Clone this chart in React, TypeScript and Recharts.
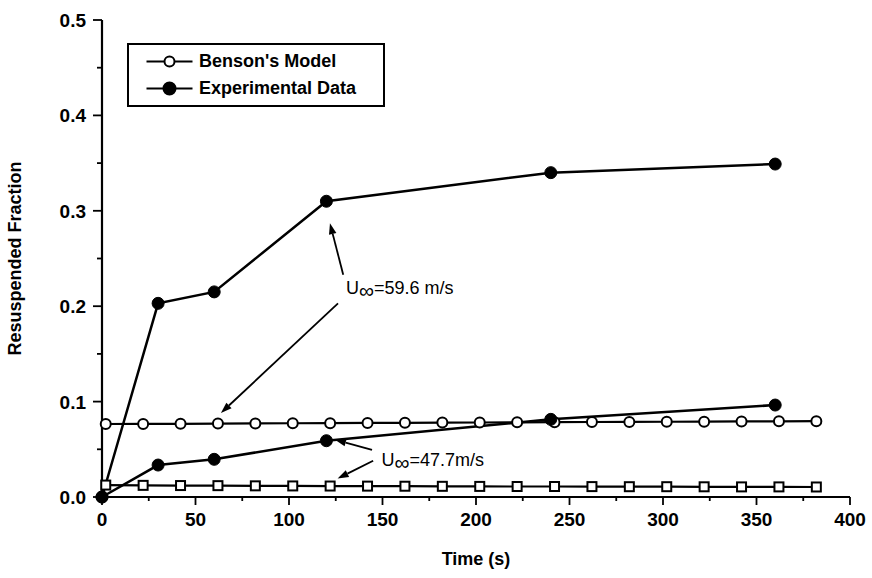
import React from 'react';
import {
  LineChart,
  Line,
  XAxis,
  YAxis,
  Legend,
  ReferenceLine,
  ReferenceDot,
} from 'recharts';

const FONT = '"Liberation Sans", Arial, sans-serif';

// Benson's model, both flow speeds share the same time points
const bensonTime = [2, 22, 42, 62, 82, 102, 122, 142, 162, 182, 202, 222, 242, 262, 282, 302, 322, 342, 362, 382];
const bensonHigh = [0.0765, 0.0766, 0.0767, 0.077, 0.0771, 0.0773, 0.0774, 0.0776, 0.0778, 0.078, 0.0781, 0.0783, 0.0784, 0.0786, 0.0787, 0.0789, 0.079, 0.0792, 0.0793, 0.0795];
const bensonLow = [0.0125, 0.0122, 0.012, 0.0119, 0.0117, 0.0116, 0.0115, 0.0114, 0.0113, 0.0112, 0.0111, 0.011, 0.011, 0.0109, 0.0108, 0.0108, 0.0107, 0.0106, 0.0106, 0.0105];

// experimental data
const expTime = [0, 30, 60, 120, 240, 360];
const expHigh = [0, 0.203, 0.215, 0.31, 0.34, 0.349];
const expLow = [0, 0.0335, 0.0395, 0.059, 0.0814, 0.0964];

const xTicks = [0, 25, 50, 75, 100, 125, 150, 175, 200, 225, 250, 275, 300, 325, 350, 375, 400];
const yTicks = [0, 0.05, 0.1, 0.15, 0.2, 0.25, 0.3, 0.35, 0.4, 0.45, 0.5];

const legendItems = [
  { name: "Benson's Model", filled: false },
  { name: 'Experimental Data', filled: true },
];

// annotation arrows [from, to] and labels, in data units
const arrows = [
  [{ x: 129, y: 0.233 }, { x: 121.9, y: 0.287 }],
  [{ x: 126.2, y: 0.203 }, { x: 63.6, y: 0.088 }],
  [{ x: 144.4, y: 0.0493 }, { x: 124.6, y: 0.06 }],
  [{ x: 145, y: 0.038 }, { x: 126, y: 0.0194 }],
];
const speedLabels = [
  { x: 130.5, y: 0.2128, text: '=59.6 m/s' },
  { x: 149.5, y: 0.0325, text: '=47.7m/s' },
];

const zip = (xs: number[], ys: number[]) => xs.map((t, i) => ({ t, v: ys[i] }));
const bensonHighData = zip(bensonTime, bensonHigh);
const bensonLowData = zip(bensonTime, bensonLow);
const expHighData = zip(expTime, expHigh);
const expLowData = zip(expTime, expLow);

const XTick = ({ x, y, payload }: any) => {
  const v = payload.value;
  const major = v % 50 === 0;
  return (
    <g>
      <line x1={x} x2={x} y1={y} y2={y + (major ? 8 : 4)} stroke="#000" strokeWidth={1.8} />
      {major && (
        <text x={x} y={y + 29} textAnchor="middle" fontFamily={FONT} fontSize={19} fontWeight="bold" fill="#000">
          {v}
        </text>
      )}
    </g>
  );
};

const YTick = ({ x, y, payload }: any) => {
  const v = payload.value;
  const major = Math.abs(Math.round(v * 10) - v * 10) < 1e-6;
  return (
    <g>
      <line x1={x - (major ? 9 : 5)} x2={x} y1={y} y2={y} stroke="#000" strokeWidth={1.8} />
      {major && (
        <text x={x - 16} y={y + 7} textAnchor="end" fontFamily={FONT} fontSize={19} fontWeight="bold" fill="#000">
          {v.toFixed(1)}
        </text>
      )}
    </g>
  );
};

const SquareDot = (p: any) => (
  <rect
    key={`sq-${p.index}`}
    x={p.cx - 4.5}
    y={p.cy - 4.5}
    width={9}
    height={9}
    fill="#fff"
    stroke="#000"
    strokeWidth={2}
  />
);

const Arrow = (p: any) => {
  const { x1, y1, x2, y2 } = p;
  const a = Math.atan2(y2 - y1, x2 - x1);
  const len = 11;
  const w = 3.8;
  const bx = x2 - len * Math.cos(a);
  const by = y2 - len * Math.sin(a);
  const nx = -Math.sin(a) * w;
  const ny = Math.cos(a) * w;
  return (
    <g>
      <line x1={x1} y1={y1} x2={bx} y2={by} stroke="#000" strokeWidth={1.8} />
      <polygon points={`${x2},${y2} ${bx + nx},${by + ny} ${bx - nx},${by - ny}`} fill="#000" />
    </g>
  );
};

const speedLabel = (text: string) => (p: any) => (
  <text x={p.cx} y={p.cy} fontFamily={FONT} fontSize={18} fill="#000">
    <tspan>U</tspan>
    <tspan dy={4} fontSize={21}>∞</tspan>
    <tspan dy={-4}>{text}</tspan>
  </text>
);

const LegendBox = () => (
  <div
    style={{
      width: 258,
      height: 64,
      boxSizing: 'border-box',
      border: '2.5px solid #000',
      background: '#fff',
      paddingTop: 3,
      fontFamily: FONT,
      fontWeight: 'bold',
      fontSize: 18,
      color: '#000',
    }}
  >
    {legendItems.map((item) => (
      <div key={item.name} style={{ display: 'flex', alignItems: 'center', height: 27 }}>
        <svg width={70} height={27} style={{ flex: 'none' }}>
          <line x1={17.5} x2={63.5} y1={13.5} y2={13.5} stroke="#000" strokeWidth={2.2} />
          <circle
            cx={40.5}
            cy={13.5}
            r={item.filled ? 6 : 5}
            fill={item.filled ? '#000' : '#fff'}
            stroke="#000"
            strokeWidth={2}
          />
        </svg>
        <span style={{ lineHeight: '27px', whiteSpace: 'nowrap' }}>{item.name}</span>
      </div>
    ))}
  </div>
);

export default function App() {
  return (
    <div style={{ position: 'absolute', left: 0, top: 0, background: '#fff' }}>
      <LineChart width={872} height={578} margin={{ top: 20, right: 22, bottom: 11, left: 0 }}>
        <XAxis
          dataKey="t"
          type="number"
          domain={[0, 400]}
          ticks={xTicks}
          interval={0}
          tickSize={0}
          tickMargin={0}
          tickLine={false}
          tick={<XTick />}
          height={70}
          axisLine={{ stroke: '#000', strokeWidth: 2.2 }}
          label={{
            value: 'Time (s)',
            position: 'insideBottom',
            offset: 2,
            fill: '#000',
            fontSize: 18,
            fontWeight: 'bold',
            fontFamily: FONT,
          }}
        />
        <XAxis
          xAxisId="top"
          orientation="top"
          type="number"
          domain={[0, 400]}
          height={0}
          tick={false}
          tickLine={false}
          axisLine={{ stroke: '#000', strokeWidth: 2.2 }}
        />
        <YAxis
          type="number"
          domain={[0, 0.5]}
          ticks={yTicks}
          interval={0}
          tickSize={0}
          tickMargin={0}
          tickLine={false}
          tick={<YTick />}
          width={102}
          axisLine={{ stroke: '#000', strokeWidth: 2.2 }}
          label={{
            value: 'Resuspended Fraction',
            angle: -90,
            position: 'insideLeft',
            offset: 14.5,
            fill: '#000',
            fontSize: 18,
            fontWeight: 'bold',
            fontFamily: FONT,
            style: { textAnchor: 'middle' },
          }}
        />
        <YAxis
          yAxisId="right"
          orientation="right"
          type="number"
          domain={[0, 0.5]}
          width={0}
          tick={false}
          tickLine={false}
          axisLine={{ stroke: '#000', strokeWidth: 2.2 }}
        />
        <Legend
          layout="horizontal"
          verticalAlign="middle"
          align="center"
          content={<LegendBox />}
          wrapperStyle={{ left: 127, top: 43, width: 258, height: 64 }}
        />
        <Line
          data={bensonHighData}
          dataKey="v"
          type="linear"
          stroke="#000"
          strokeWidth={2.2}
          dot={{ r: 5, fill: '#fff', stroke: '#000', strokeWidth: 2 }}
          isAnimationActive={false}
          legendType="none"
        />
        <Line
          data={bensonLowData}
          dataKey="v"
          type="linear"
          stroke="#000"
          strokeWidth={2.2}
          dot={SquareDot}
          isAnimationActive={false}
          legendType="none"
        />
        <Line
          data={expHighData}
          dataKey="v"
          type="linear"
          stroke="#000"
          strokeWidth={2.5}
          dot={{ r: 6, fill: '#000', stroke: '#000', strokeWidth: 1 }}
          isAnimationActive={false}
          legendType="none"
        />
        <Line
          data={expLowData}
          dataKey="v"
          type="linear"
          stroke="#000"
          strokeWidth={2.5}
          dot={{ r: 6, fill: '#000', stroke: '#000', strokeWidth: 1 }}
          isAnimationActive={false}
          legendType="none"
        />
        {arrows.map((seg, i) => (
          <ReferenceLine key={`arrow-${i}`} segment={seg} shape={Arrow} />
        ))}
        {speedLabels.map((l) => (
          <ReferenceDot key={l.text} x={l.x} y={l.y} r={0} shape={speedLabel(l.text)} />
        ))}
      </LineChart>
    </div>
  );
}
